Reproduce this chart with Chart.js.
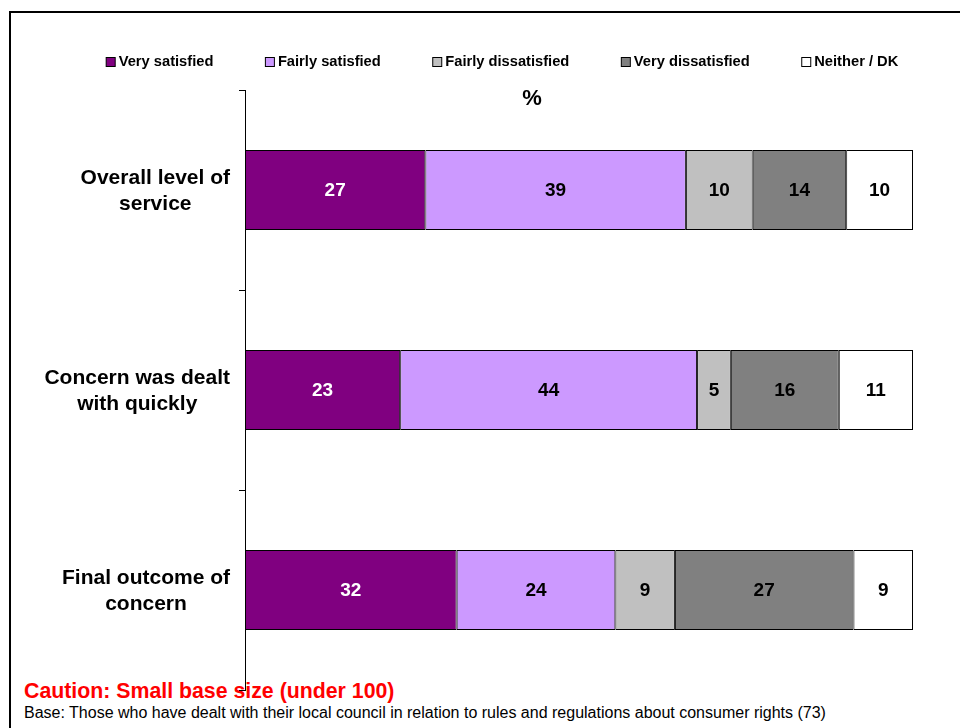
<!DOCTYPE html>
<html>
<head>
<meta charset="utf-8">
<script src="https://cdn.jsdelivr.net/npm/chart.js@4/dist/chart.umd.min.js"></script>
<style>
  body { margin: 0; background: #fff; font-family: Arial, "Liberation Sans", sans-serif; }
  #wrap { position: relative; width: 960px; height: 728px; overflow: hidden; }
  #frame { position: absolute; left: 9px; top: 11px; width: 960px; height: 740px; border-top: 2px solid #000; border-left: 2px solid #000; }
  #grafico { position: absolute; left: 0; top: 0; }
  .nota { position: absolute; left: 24px; white-space: nowrap; }
  #caution { top: 679px; color: #ff0000; font-weight: bold; font-size: 21.3px; }
  #base { top: 704px; color: #000; font-size: 16px; }
</style>
</head>
<body>
<div id="wrap">
  <div id="frame"></div>
  <div id="caution" class="nota">Caution: Small base size (under 100)</div>
  <div id="base" class="nota">Base: Those who have dealt with their local council in relation to rules and regulations about consumer rights (73)</div>
  <canvas id="grafico" width="960" height="728"></canvas>
</div>
<script>
// dados
const categorias = [
    ['Overall level of', 'service'],
    ['Concern was dealt', 'with quickly'],
    ['Final outcome of', 'concern']
];
const muitoSatisfeito = [27, 23, 32];
const razoavelSatisfeito = [39, 44, 24];
const razoavelInsatisfeito = [10, 5, 9];
const muitoInsatisfeito = [14, 16, 27];
const nenhumNs = [10, 11, 9];

const series = [
    { label: 'Very satisfied', valores: muitoSatisfeito, cor: '#800080', texto: '#ffffff' },
    { label: 'Fairly satisfied', valores: razoavelSatisfeito, cor: '#cc99ff', texto: '#000000' },
    { label: 'Fairly dissatisfied', valores: razoavelInsatisfeito, cor: '#c0c0c0', texto: '#000000' },
    { label: 'Very dissatisfied', valores: muitoInsatisfeito, cor: '#808080', texto: '#000000' },
    { label: 'Neither / DK', valores: nenhumNs, cor: '#ffffff', texto: '#000000' }
];

// cada barra vai ate 100% (como no original)
var totais = [];
for (i = 0; i < categorias.length; i++) {
    var soma = 0;
    for (j = 0; j < series.length; j++) soma += series[j].valores[i];
    totais.push(soma);
}

const datasets = series.map(s => ({
    label: s.label,
    data: s.valores.map((v, i) => v / totais[i] * 100),
    brutos: s.valores,
    corTexto: s.texto,
    backgroundColor: s.cor,
    borderColor: '#000000',
    borderWidth: 1,
    borderSkipped: false,
    categoryPercentage: 1,
    barPercentage: 0.4
}));

const FONTE = 'Arial, "Liberation Sans", sans-serif';

const pluginTextos = {
    id: 'textos',
    afterDatasetsDraw(chart) {
        const ctx = chart.ctx;
        ctx.save();
        ctx.textBaseline = 'middle';

        // legenda (espacamento fixo entre itens, centrada em 502)
        ctx.font = 'bold 14.7px ' + FONTE;
        const gap = 51.5;
        const larguras = chart.data.datasets.map(ds => 13 + ctx.measureText(ds.label).width);
        const total = larguras.reduce((a, b) => a + b, 0) + gap * (larguras.length - 1);
        let x = 502 - total / 2;
        ctx.textAlign = 'left';
        chart.data.datasets.forEach((ds, d) => {
            ctx.fillStyle = ds.backgroundColor;
            ctx.fillRect(x + 0.5, 57.5, 9, 9);
            ctx.strokeStyle = '#000000';
            ctx.lineWidth = 1;
            ctx.strokeRect(x + 0.5, 57.5, 9, 9);
            ctx.fillStyle = '#000000';
            ctx.fillText(ds.label, x + 13, 62);
            x += larguras[d] + gap;
        });

        // numeros dentro das barras
        ctx.font = 'bold 19px ' + FONTE;
        ctx.textAlign = 'center';
        chart.data.datasets.forEach((ds, d) => {
            chart.getDatasetMeta(d).data.forEach((barra, i) => {
                const xm = (barra.x + barra.base) / 2;
                ctx.fillStyle = ds.corTexto;
                ctx.fillText(String(ds.brutos[i]), xm, barra.y + 1);
            });
        });

        // rotulos das categorias
        const escalaY = chart.scales.y;
        ctx.font = 'bold 21px ' + FONTE;
        ctx.fillStyle = '#000000';
        categorias.forEach((linhas, i) => {
            const yc = escalaY.getPixelForValue(i);
            let largura = 0;
            linhas.forEach(l => { largura = Math.max(largura, ctx.measureText(l).width); });
            const cx = 230 - largura / 2;
            linhas.forEach((l, k) => {
                ctx.fillText(l, cx, yc + 1 + (k - (linhas.length - 1) / 2) * 26);
            });
        });

        // simbolo %
        ctx.font = 'bold 22px ' + FONTE;
        ctx.fillText('%', 532, 99);
        ctx.restore();
    }
};

const config = {
    type: 'bar',
    data: { labels: categorias.map(c => c.join(' ')), datasets: datasets },
    options: {
        indexAxis: 'y',
        responsive: false,
        animation: false,
        layout: { padding: { top: 90, left: 0, right: 47, bottom: 38 } },
        scales: {
            x: {
                stacked: true,
                min: 0,
                max: 100,
                display: false
            },
            y: {
                stacked: true,
                grid: {
                    offset: true,
                    drawOnChartArea: false,
                    drawTicks: true,
                    tickLength: 6,
                    color: '#000000'
                },
                border: { display: true, color: '#000000', width: 1 },
                ticks: { display: false },
                afterFit: (escala) => { escala.width = 245; }
            }
        },
        plugins: {
            legend: { display: false },
            tooltip: { enabled: false }
        }
    },
    plugins: [pluginTextos]
};

window.meuGrafico = new Chart(document.getElementById('grafico'), config);
</script>
</body>
</html>
